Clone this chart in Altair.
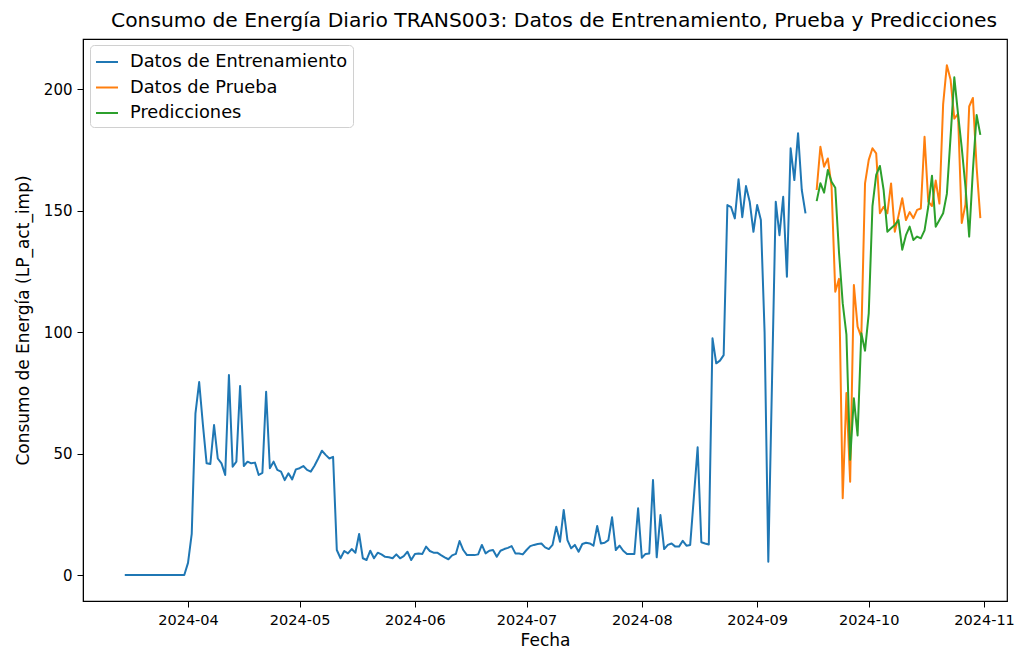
import altair as alt
import pandas as pd

# ---------------- data ----------------
train_start = "2024-03-15"
train_values = [
    0, 0, 0, 0, 0, 0, 0, 0, 0, 0, 0, 0, 0, 0, 0, 0, 0,          # Mar 15 - Mar 31
    5, 17, 66.6, 79.5, 62, 46, 45.7, 61.8, 48, 46, 41.2, 82.4,  # Apr 1 - Apr 12
    44.6, 46.7, 77.9, 44.9, 46.7, 46, 46.3, 41.2, 42.1, 75.5,   # Apr 13 - Apr 22
    44, 46.7, 43.3, 42.6, 39.1, 41.9, 39.4, 43.5,               # Apr 23 - Apr 30
    44, 44.9, 43.3, 42.6, 45, 48, 51.2, 49.5, 48, 48.7,         # May 1 - May 10
    10.3, 6.9, 9.9, 8.9, 10.7, 9.2, 16.9, 6.9, 6.2, 10,         # May 11 - May 20
    6.9, 9.2, 8.5, 7.5, 7.3, 6.9, 8.5, 6.9, 7.8, 9.6, 6.2,      # May 21 - May 31
    8.7, 8.9, 8.7, 11.7, 9.9, 9.2, 9.2, 8.2, 7.3, 6.5,          # Jun 1 - Jun 10
    8.1, 8.7, 14, 10.3, 8.2, 8.2, 8.2, 8.5, 12.4, 8.9,          # Jun 11 - Jun 20
    10, 10.3, 7.5, 10, 10.7, 11.2, 11.9, 8.9, 8.9, 8.5,         # Jun 21 - Jun 30
    10.3, 11.9, 12.4, 12.8, 13, 11.4, 10.7, 12.4, 19.9, 13.7,   # Jul 1 - Jul 10
    26.8, 14.4, 11, 12.4, 9.6, 12.8, 13.3, 13, 12.1, 20.2,      # Jul 11 - Jul 20
    13, 13.3, 14.4, 23.8, 10.3, 12.1, 10, 8.7, 8.7, 8.7, 27.5,  # Jul 21 - Jul 31
    7.1, 8.7, 8.9, 39.1, 7.3, 24.7, 10.7, 12.4, 13, 11.7,       # Aug 1 - Aug 10
    11.7, 14.1, 12.1, 12.4, 32.3, 52.6, 13.5, 13, 12.6, 97.5,   # Aug 11 - Aug 20
    87.2, 88.3, 90.6, 152.4, 151.5, 146.9, 163, 147.4, 160.2,   # Aug 21 - Aug 29
    153.8, 141.4,                                               # Aug 30 - Aug 31
    152.4, 146.2, 100, 5.5, 80, 153.8, 140, 155.8, 122.9,       # Sep 1 - Sep 9
    175.8, 162.7, 182, 158.6, 149,                              # Sep 10 - Sep 14
]

test_start = "2024-09-17"
test_values = [
    158.6, 176.4, 168.2, 171.6, 160, 116.7, 122, 31.6, 75, 38.4,      # Sep 17 - Sep 26
    119.5, 102.3, 98, 161.3,                                          # Sep 27 - Sep 30
    171, 175.8, 173.7, 149, 151.7, 149, 161.3, 141.4, 148, 155.2,     # Oct 1 - Oct 10
    146.2, 149.5, 147, 150.4, 151, 180.5, 153.8, 152, 162.5, 153,     # Oct 11 - Oct 20
    194, 210, 204, 188, 190, 145, 152.7, 193, 196.5, 168, 147,        # Oct 21 - Oct 31
]
pred_values = [
    154, 161.4, 157.5, 166.8, 162, 159.5, 133, 112, 99, 47.5,         # Sep 17 - Sep 26
    72.8, 57.5, 99.6, 92.4,                                           # Sep 27 - Sep 30
    107.8, 152, 164.8, 168.5, 158.6, 141.4, 142.8, 144.2, 146.2, 134, # Oct 1 - Oct 10
    140, 143.5, 138, 139.4, 138.7, 142, 151.7, 164.5, 143.5, 146.2,   # Oct 11 - Oct 20
    149, 157, 180.6, 205, 190, 176, 160, 139.4, 166.8, 189.5, 181.3,  # Oct 21 - Oct 31
]

series_names = ["Datos de Entrenamiento", "Datos de Prueba", "Predicciones"]
series_colors = ["#1f77b4", "#ff7f0e", "#2ca02c"]
tick_months = [4, 5, 6, 7, 8, 9, 10, 11]
y_ticks = [0, 50, 100, 150, 200]


def make_frame(start, values, name):
    dates = pd.date_range(start, periods=len(values), freq="D")
    return pd.DataFrame({
        "Fecha": dates.strftime("%Y-%m-%dT00:00:00"),
        "valor": values,
        "serie": name,
    })


df = pd.concat([
    make_frame(train_start, train_values, series_names[0]),
    make_frame(test_start, test_values, series_names[1]),
    make_frame(test_start, pred_values, series_names[2]),
], ignore_index=True)

FONT = "DejaVu Sans"

x_enc = alt.X(
    "Fecha:T",
    title="Fecha",
    scale=alt.Scale(
        domain=[
            alt.DateTime(year=2024, month=3, date=3, hours=18, minutes=30),
            alt.DateTime(year=2024, month=11, date=7, hours=4),
        ],
        nice=False,
    ),
    axis=alt.Axis(
        values=[alt.DateTime(year=2024, month=m, date=1) for m in tick_months],
        format="%Y-%m",
        grid=False,
        labelFontSize=14.5,
        titleFontSize=17,
        labelPadding=6,
        titlePadding=6,
        tickSize=6,
        labelFlush=False,
    ),
)

y_enc = alt.Y(
    "valor:Q",
    title="Consumo de Energía (LP_act_imp)",
    scale=alt.Scale(domain=[-10.7, 220.8], nice=False, zero=False),
    axis=alt.Axis(
        values=y_ticks,
        grid=False,
        labelFontSize=15,
        titleFontSize=17,
        labelPadding=5,
        titlePadding=11,
        tickSize=6,
    ),
)

color_enc = alt.Color(
    "serie:N",
    title=None,
    scale=alt.Scale(domain=series_names, range=series_colors),
    legend=alt.Legend(
        orient="none",
        legendX=7,
        legendY=6,
        symbolType="stroke",
        symbolSize=484,
        symbolStrokeWidth=2,
        labelFontSize=17.8,
        labelFont=FONT,
        labelOffset=11,
        rowPadding=4.5,
        padding=5,
        fillColor="white",
        strokeColor="#d0d0d0",
        cornerRadius=4,
        labelLimit=400,
    ),
)

chart = (
    alt.Chart(df)
    .mark_line(strokeWidth=2, strokeJoin="round")
    .encode(x=x_enc, y=y_enc, color=color_enc,
            order=alt.Order("Fecha:T"))
    .properties(
        width=924,
        height=562,
        title=alt.Title(
            "Consumo de Energía Diario TRANS003: Datos de Entrenamiento, Prueba y Predicciones",
            fontSize=20.3,
            font=FONT,
            fontWeight="normal",
            offset=8,
            dx=9,
        ),
        autosize=alt.AutoSizeParams(type="none"),
        padding={"left": 75, "top": 31, "right": 8, "bottom": 48},
    )
    .configure(font=FONT)
    .configure_axis(
        labelFont=FONT,
        titleFont=FONT,
        labelColor="#000000",
        titleColor="#000000",
        titleFontWeight="normal",
        domainColor="#000000",
        tickColor="#000000",
        domainWidth=1,
        tickWidth=1,
    )
    .configure_view(stroke="#000000", strokeWidth=1.2)
    .configure_title(color="#000000")
)

chart.save("out.html", embed_options={"renderer": "svg", "actions": False})
